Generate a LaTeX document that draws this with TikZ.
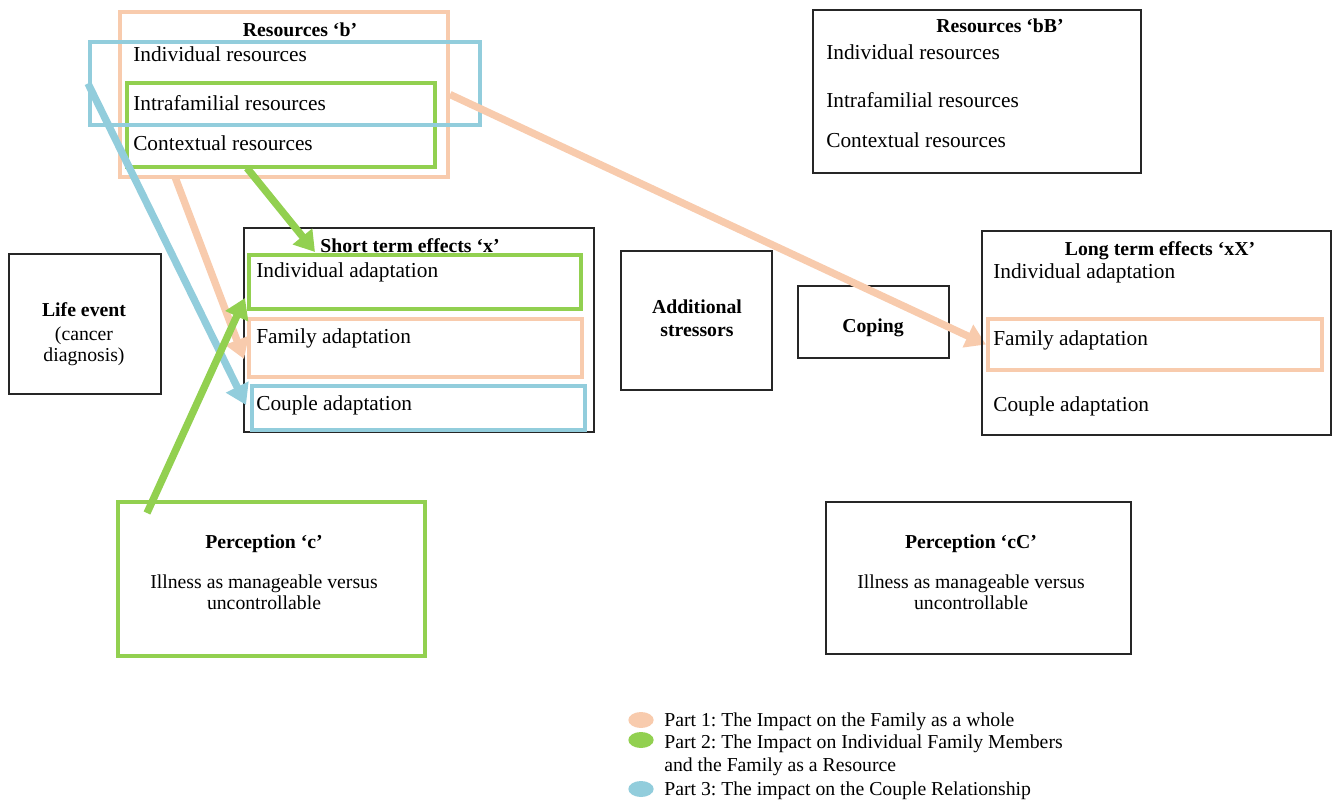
\documentclass[tikz,border=0pt]{standalone}
\usepackage{fontspec}
\setmainfont{Liberation Serif}
\usetikzlibrary{fit,arrows.meta,shapes.geometric}
\definecolor{peach}{HTML}{F8CBAD}
\definecolor{leaf}{HTML}{92D050}
\definecolor{sky}{HTML}{92CDDC}
\definecolor{framegray}{HTML}{262626}
\frenchspacing

\begin{document}
\begin{tikzpicture}[x=0.75pt,y=-0.75pt,
  listtxt/.style={font=\fontsize{16}{19}\selectfont, inner sep=0pt, anchor=base west},
  plaintxt/.style={font=\fontsize{14.8}{16}\selectfont, inner sep=0pt, anchor=base},
  titletxt/.style={font=\bfseries\fontsize{14.8}{16}\selectfont, inner sep=0pt, anchor=base},
  legendtxt/.style={font=\fontsize{14.8}{16}\selectfont, inner sep=0pt, anchor=base west},
  blackbox/.style={draw=framegray, line width=1.1pt, inner sep=0pt},
  colbox/.style={draw=#1, line width=3pt, inner sep=0pt},
  link/.style={draw=#1, line width=5.5pt, -{Triangle[length=15pt,width=18pt]}},
  legdot/.style={ellipse, fill=#1, minimum width=19pt, minimum height=12pt, inner sep=0pt},
]
\useasboundingbox (0,0) rectangle (1333,805);

% Resources b (framed in the three part colours)
\node[colbox=peach, fit={(120,12)(448,177)}] (resb) {};
\node[colbox=leaf, fit={(127,83)(435,167)}] (resgreen) {};
\node[colbox=sky, fit={(90,42)(480,125)}] (resblue) {};
\node[titletxt] (resbT) at (300,37) {Resources ‘b’};
\node[listtxt] (resb1) at (133,62) {Individual resources};
\node[listtxt] (resb2) at (133,111) {Intrafamilial resources};
\node[listtxt] (resb3) at (133,151) {Contextual resources};

% Resources bB
\node[blackbox, fit={(813,10)(1141,173)}] (resbB) {};
\node[titletxt] (resbBT) at (1000,33) {Resources ‘bB’};
\node[listtxt] (resbB1) at (826,60) {Individual resources};
\node[listtxt] (resbB2) at (826,108) {Intrafamilial resources};
\node[listtxt] (resbB3) at (826,148) {Contextual resources};

% Short term effects
\node[blackbox, fit={(244,228)(594,432)}] (st) {};
\node[colbox=leaf, fit={(249,255)(581,309)}] (stind) {};
\node[colbox=peach, fit={(249,319)(582,377)}] (stfam) {};
\node[colbox=sky, fit={(252,386)(585,430)}] (stcpl) {};
\node[titletxt] (stT) at (410,253) {Short term effects ‘x’};
\node[listtxt] (st1) at (256,278) {Individual adaptation};
\node[listtxt] (st2) at (256,343) {Family adaptation};
\node[listtxt] (st3) at (256,410) {Couple adaptation};

% Life event
\node[blackbox, fit={(9,254)(161,394)}] (life) {};
\node[titletxt] (life1) at (84,316) {Life event};
\node[plaintxt] (life2) at (84,340) {(cancer};
\node[plaintxt] (life3) at (84,361) {diagnosis)};

% Additional stressors and coping
\node[blackbox, fit={(621,251)(772,390)}] (addst) {};
\node[titletxt] (addst1) at (697,313) {Additional};
\node[titletxt] (addst2) at (697,336) {stressors};
\node[blackbox, fit={(798,286)(949,358)}] (coping) {};
\node[titletxt] (coping1) at (873,332) {Coping};

% Long term effects (inner frame)
\node[colbox=peach, fit={(988,319)(1322,370)}] (ltfam) {};
\node[titletxt] (ltT) at (1160,256) {Long term effects ‘xX’};
\node[listtxt] (lt1) at (993,279) {Individual adaptation};
\node[listtxt] (lt2) at (993,345) {Family adaptation};
\node[listtxt] (lt3) at (993,411) {Couple adaptation};

% Perception c
\node[colbox=leaf, fit={(118,502)(425,656)}] (perc) {};
\node[titletxt] (percT) at (264,548) {Perception ‘c’};
\node[plaintxt] (perc1) at (264,588) {Illness as manageable versus};
\node[plaintxt] (perc2) at (264,609) {uncontrollable};

% Perception cC
\node[blackbox, fit={(826,502)(1131,654)}] (percC) {};
\node[titletxt] (percCT) at (971,548) {Perception ‘cC’};
\node[plaintxt] (percC1) at (971,588) {Illness as manageable versus};
\node[plaintxt] (percC2) at (971,609) {uncontrollable};

% Arrow end points
\coordinate (gA) at (247,168);
\coordinate (gB) at (315,252);
\coordinate (oA) at (175,177);
\coordinate (oB) at (244,359);
\coordinate (bB) at (246,405);
\coordinate (pA) at (147,513);
\coordinate (pB) at (245,298);

% Connectors
\draw[link=peach] (resb.east) -- (ltfam.west);
\draw[link=peach] (oA) -- (oB);
\draw[link=sky] (resblue.west) -- (bB);
\draw[link=leaf] (gA) -- (gB);
\draw[link=leaf] (pA) -- (pB);

% Long term outer frame on top of the arrow
\node[blackbox, fit={(982,231)(1331,435)}] (lt) {};

% Legend
\node[legdot=peach] (lg1) at (641,720) {};
\node[legdot=leaf] (lg2) at (641,740) {};
\node[legdot=sky] (lg3) at (641,789) {};
\node[legendtxt] (lgt1) at (664,726) {Part 1: The Impact on the Family as a whole};
\node[legendtxt] (lgt2) at (664,748) {Part 2: The Impact on Individual Family Members};
\node[legendtxt] (lgt3) at (664,771) {and the Family as a Resource};
\node[legendtxt] (lgt4) at (664,795) {Part 3: The impact on the Couple Relationship};
\end{tikzpicture}
\end{document}
